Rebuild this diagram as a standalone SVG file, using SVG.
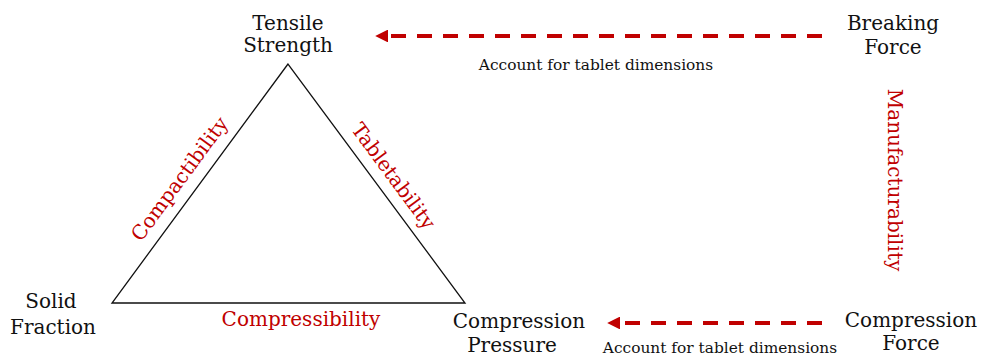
<svg xmlns="http://www.w3.org/2000/svg" width="981" height="356" viewBox="0 0 981 356">
<style>
text{font-family:"DejaVu Serif","Liberation Serif",serif;font-size:20px;fill:#111;text-anchor:middle}
.red{fill:#c00000}
.small{font-size:15.4px}
.arrow{stroke:#c00000;stroke-width:4;stroke-dasharray:15 11;fill:none}
.tri{fill:none;stroke:#111;stroke-width:1.3}
</style>
<defs>
<marker id="ah" viewBox="0 0 10 10" refX="0" refY="5" markerWidth="3.2" markerHeight="3.2" orient="auto">
<path d="M0,0 L10,5 L0,10 Z" fill="#c00000"/>
</marker>
</defs>
<rect width="981" height="356" fill="#fff"/>
<g id="triangle">
<path class="tri" d="M288,64 L112,303 L465,303 Z"/>
<text class="red" transform="translate(185,183) rotate(-53.6)">Compactibility</text>
<text class="red" transform="translate(388,180) rotate(53.6)">Tabletability</text>
<text class="red" x="301" y="326">Compressibility</text>
</g>
<g id="tensile-strength">
<text x="288" y="30">Tensile</text>
<text x="288" y="52">Strength</text>
</g>
<g id="solid-fraction">
<text x="51" y="308">Solid</text>
<text x="53" y="334">Fraction</text>
</g>
<g id="compression-pressure">
<text x="519" y="328">Compression</text>
<text x="512" y="352">Pressure</text>
</g>
<g id="breaking-force">
<text x="893" y="30">Breaking</text>
<text x="893" y="54">Force</text>
</g>
<g id="compression-force">
<text x="911" y="327">Compression</text>
<text x="911" y="350">Force</text>
</g>
<g id="manufacturability">
<text class="red" transform="translate(888,180) rotate(90)">Manufacturability</text>
</g>
<g id="connectors">
<line class="arrow" x1="822" y1="36" x2="388" y2="36" marker-end="url(#ah)"/>
<text class="small" x="596" y="70">Account for tablet dimensions</text>
<line class="arrow" x1="822" y1="323" x2="620" y2="323" marker-end="url(#ah)"/>
<text class="small" x="720" y="353">Account for tablet dimensions</text>
</g>
</svg>
